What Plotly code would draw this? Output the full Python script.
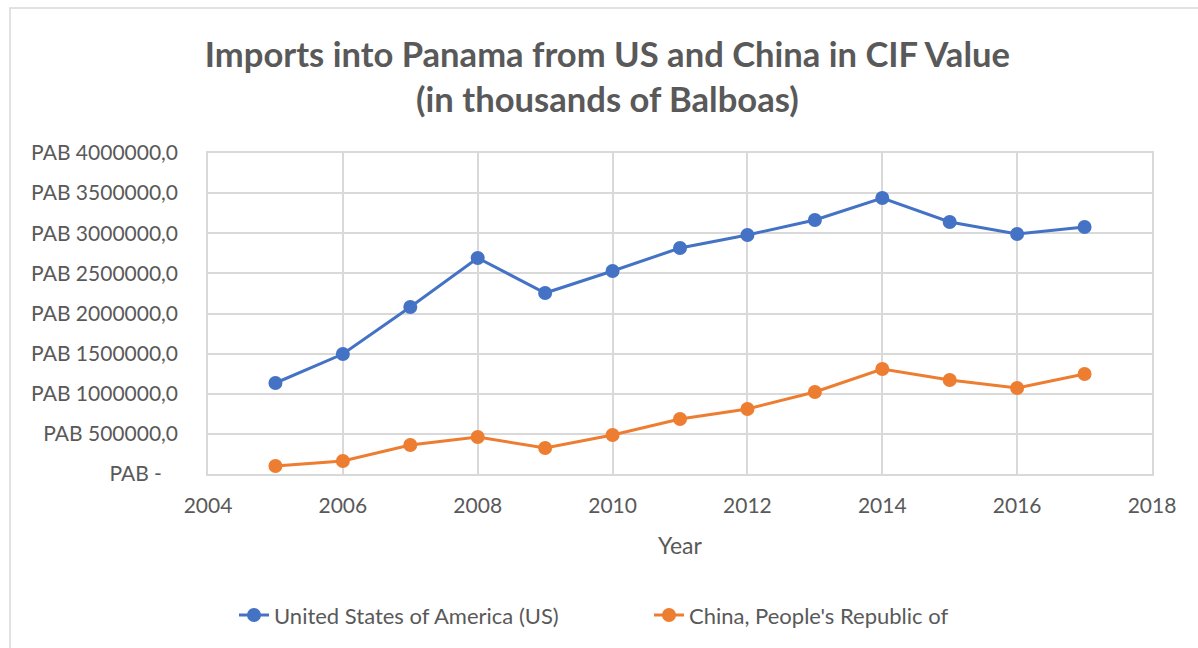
import plotly.graph_objects as go

years = [2005, 2006, 2007, 2008, 2009, 2010, 2011, 2012, 2013, 2014, 2015, 2016, 2017]
us_values = [1134000, 1495000, 2081000, 2692000, 2255000, 2530000, 2816000, 2978000,
             3165000, 3439000, 3140000, 2991000, 3078000]
china_values = [100000, 162000, 361000, 461000, 324000, 486000, 685000, 810000,
                1022000, 1308000, 1171000, 1072000, 1246000]
y_tickvals = [0, 500000, 1000000, 1500000, 2000000, 2500000, 3000000, 3500000, 4000000]
y_ticktext = ["PAB -   "] + ["PAB %d,0" % v for v in y_tickvals[1:]]
x_tickvals = [2004, 2006, 2008, 2010, 2012, 2014, 2016, 2018]

FONT = "Lato, 'Open Sans', sans-serif"
GREY = "#595959"

fig = go.Figure()
fig.add_trace(go.Scatter(x=years, y=us_values, mode="lines+markers",
                         name="United States of America (US)",
                         line=dict(color="#4472C4", width=3),
                         marker=dict(size=14, color="#4472C4")))
fig.add_trace(go.Scatter(x=years, y=china_values, mode="lines+markers",
                         name="China, People's Republic of",
                         line=dict(color="#ED7D31", width=3),
                         marker=dict(size=14, color="#ED7D31")))

fig.update_layout(
    width=1198, height=648,
    margin=dict(l=208, r=46, t=153, b=174),
    paper_bgcolor="white", plot_bgcolor="white",
    font=dict(family=FONT, color=GREY, size=21),
    title=dict(text="<b>Imports into Panama from US and China in CIF Value<br>(in thousands of Balboas)</b>",
               x=0.507, xanchor="center", y=0.897, yanchor="middle",
               font=dict(size=34.6, color=GREY, family=FONT)),
    xaxis=dict(range=[2004, 2018], tickvals=x_tickvals, showgrid=True,
               gridcolor="#d9d9d9", gridwidth=1.5, zeroline=False,
               showline=True, linecolor="#d9d9d9", linewidth=1.5, mirror=True,
               ticks="", tickfont=dict(size=21, color=GREY), ticklabelstandoff=12,
               title=dict(text="Year", font=dict(size=23, color=GREY), standoff=22)),
    yaxis=dict(range=[0, 4000000], tickvals=y_tickvals, ticktext=y_ticktext,
               showgrid=True, gridcolor="#d9d9d9", gridwidth=1.5, zeroline=False,
               showline=True, linecolor="#d9d9d9", linewidth=1.5, mirror=True,
               ticks="", tickfont=dict(size=21, color=GREY), ticklabelstandoff=24),
    legend=dict(orientation="h", x=(234 - 208) / 944, xanchor="left", y=-0.44, yanchor="middle",
                font=dict(size=22, color=GREY), entrywidth=370, entrywidthmode="pixels"),
    showlegend=True,
    shapes=[dict(type="rect", xref="paper", yref="paper",
                 x0=(10 - 208) / 944, x1=1.2, y0=-0.7, y1=(474 - 8) / 321,
                 line=dict(color="#d9d9d9", width=1.5), fillcolor="rgba(0,0,0,0)",
                 layer="below")],
)

fig.write_html("out.html")
